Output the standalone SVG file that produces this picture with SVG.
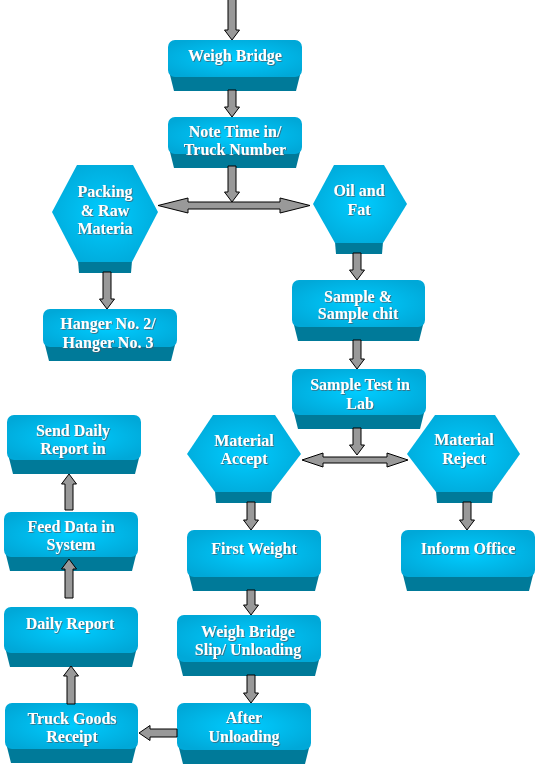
<svg xmlns="http://www.w3.org/2000/svg" width="538" height="765" viewBox="0 0 538 765">
<defs>
<radialGradient id="face" cx="50%" cy="50%" r="60%">
<stop offset="0" stop-color="#00CCFF"/>
<stop offset="1" stop-color="#00A8D8"/>
</radialGradient>
<filter id="sh" x="-5%" y="-20%" width="110%" height="140%">
<feDropShadow dx="0.8" dy="0.8" stdDeviation="0.3" flood-color="#4a5a66" flood-opacity="0.9"/>
</filter>
</defs>
<style>
.face{fill:url(#face)}
.band{fill:#007A99}
.arr{fill:#999999;stroke:#000;stroke-width:1;stroke-linejoin:miter}
text{font-family:"Liberation Serif","Times New Roman",serif;font-weight:bold;font-size:16px;fill:#fff;text-anchor:middle;filter:url(#sh)}
</style>
<rect width="538" height="765" fill="#fff"/>

<g id="weigh-bridge">
<polygon class="band" points="169,71 301,71 296,91 174,91"/>
<rect class="face" x="168" y="40" width="134" height="37" rx="7"/>
<text x="235" y="61">Weigh Bridge</text>
</g>
<g id="note-time">
<polygon class="band" points="169,148 301,148 296,168 174,168"/>
<rect class="face" x="168" y="117" width="134" height="37" rx="7"/>
<text x="235" y="137">Note Time in/</text>
<text x="235" y="155">Truck Number</text>
</g>
<g id="packing">
<polygon class="band" points="78,261 132,261 131,273 79,273"/>
<polygon class="face" points="77,165 133,165 158,212 132,262 78,262 52,212"/>
<text x="105" y="197">Packing</text>
<text x="105" y="216">&amp; Raw</text>
<text x="105" y="234">Materia</text>
</g>
<g id="oil-fat">
<polygon class="band" points="335,242 383,242 382,254 336,254"/>
<polygon class="face" points="334,165 384,165 407,204 383,243 335,243 313,204"/>
<text x="359" y="196">Oil and</text>
<text x="359" y="215">Fat</text>
</g>
<g id="hanger">
<polygon class="band" points="44,341 176,341 171,361 49,361"/>
<rect class="face" x="43" y="309" width="134" height="38" rx="7"/>
<text x="108" y="329">Hanger No. 2/</text>
<text x="108" y="348">Hanger No. 3</text>
</g>
<g id="sample-chit">
<polygon class="band" points="293,321 424,321 419,341 298,341"/>
<rect class="face" x="292" y="280" width="133" height="47" rx="7"/>
<text x="358" y="302">Sample &amp;</text>
<text x="358" y="319">Sample chit</text>
</g>
<g id="sample-test">
<polygon class="band" points="293,409 425,409 420,429 298,429"/>
<rect class="face" x="292" y="369" width="134" height="46" rx="7"/>
<text x="360" y="390">Sample Test in</text>
<text x="360" y="409">Lab</text>
</g>
<g id="material-accept">
<polygon class="band" points="215,491 272,491 271,503 216,503"/>
<polygon class="face" points="213,415 275,415 301,454 272,492 215,492 187,454"/>
<text x="244" y="446">Material</text>
<text x="244" y="464">Accept</text>
</g>
<g id="material-reject">
<polygon class="band" points="436,491 493,491 492,503 437,503"/>
<polygon class="face" points="435,415 495,415 520,454 493,492 436,492 407,454"/>
<text x="464" y="445">Material</text>
<text x="464" y="464">Reject</text>
</g>
<g id="first-weight">
<polygon class="band" points="188,571 320,571 315,591 193,591"/>
<rect class="face" x="187" y="530" width="134" height="47" rx="7"/>
<text x="254" y="554">First Weight</text>
</g>
<g id="inform-office">
<polygon class="band" points="402,571 534,571 529,591 407,591"/>
<rect class="face" x="401" y="530" width="134" height="47" rx="7"/>
<text x="468" y="554">Inform Office</text>
</g>
<g id="slip-unloading">
<polygon class="band" points="178,656 320,656 315,676 183,676"/>
<rect class="face" x="177" y="615" width="144" height="47" rx="7"/>
<text x="248" y="637">Weigh Bridge</text>
<text x="248" y="655">Slip/ Unloading</text>
</g>
<g id="after-unloading">
<polygon class="band" points="178,744 310,744 305,764 183,764"/>
<rect class="face" x="177" y="703" width="134" height="47" rx="7"/>
<text x="244" y="723">After</text>
<text x="244" y="742">Unloading</text>
</g>
<g id="send-daily">
<polygon class="band" points="8,454 140,454 135,474 13,474"/>
<rect class="face" x="7" y="415" width="134" height="45" rx="7"/>
<text x="73" y="436">Send Daily</text>
<text x="73" y="454">Report in</text>
</g>
<g id="feed-data">
<polygon class="band" points="5,551 137,551 132,571 10,571"/>
<rect class="face" x="4" y="512" width="134" height="45" rx="7"/>
<text x="71" y="532">Feed Data in</text>
<text x="71" y="550">System</text>
</g>
<g id="daily-report">
<polygon class="band" points="5,647 137,647 132,667 10,667"/>
<rect class="face" x="4" y="607" width="134" height="46" rx="7"/>
<text x="70" y="629">Daily Report</text>
</g>
<g id="truck-goods">
<polygon class="band" points="6,743 137,743 132,763 11,763"/>
<rect class="face" x="5" y="703" width="133" height="46" rx="7"/>
<text x="72" y="724">Truck Goods</text>
<text x="72" y="742">Receipt</text>
</g>

<g id="connectors">
<polygon class="arr" points="228,-1 236,-1 236,30 239.5,30 232,40 224.5,30 228,30"/>
<polygon class="arr" points="228,90 236,90 236,107 239.5,107 232,117 224.5,107 228,107"/>
<polygon class="arr" points="228,166 236,166 236,192 239.5,192 232,202 224.5,192 228,192"/>
<polygon class="arr" points="158,205.5 188,198 188,202 280,202 280,198 310,205.5 280,213 280,209 188,209 188,213"/>
<polygon class="arr" points="103,272 111,272 111,299 114.5,299 107,309 99.5,299 103,299"/>
<polygon class="arr" points="353,253 361,253 361,270 364.5,270 357,280 349.5,270 353,270"/>
<polygon class="arr" points="353,340 361,340 361,359 364.5,359 357,369 349.5,359 353,359"/>
<polygon class="arr" points="353,428 361,428 361,445 364.5,445 357,455 349.5,445 353,445"/>
<polygon class="arr" points="302,460 323,453 323,457 387,457 387,453 408,460 387,467 387,463 323,463 323,467"/>
<polygon class="arr" points="247,502 255,502 255,520 258.5,520 251,530 243.5,520 247,520"/>
<polygon class="arr" points="463,502 471,502 471,520 474.5,520 467,530 459.5,520 463,520"/>
<polygon class="arr" points="247,590 255,590 255,605 258.5,605 251,615 243.5,605 247,605"/>
<polygon class="arr" points="247,675 255,675 255,693 258.5,693 251,703 243.5,693 247,693"/>
<polygon class="arr" points="177,729 177,737 150,737 150,740.5 139,733 150,725.5 150,729"/>
<polygon class="arr" points="67,704 75,704 75,676 78.5,676 71,666 63.5,676 67,676"/>
<polygon class="arr" points="65,598 73,598 73,569 76.5,569 69,559 61.5,569 65,569"/>
<polygon class="arr" points="65,510 73,510 73,484 76.5,484 69,474 61.5,484 65,484"/>
</g>
</svg>
